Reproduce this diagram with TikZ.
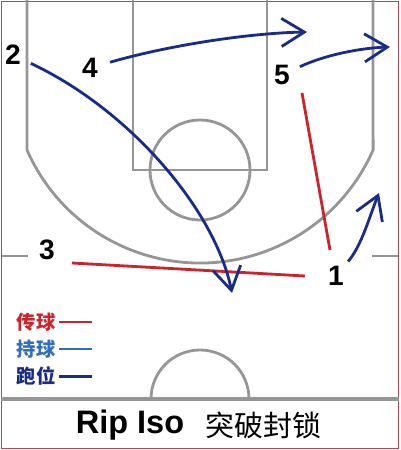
\documentclass[tikz,border=0pt]{standalone}
\usepackage{fontspec}
\setmainfont{Liberation Sans}
\newfontfamily\cjk{Noto Sans CJK SC}
\usepackage{tikz}
\usetikzlibrary{arrows.meta,positioning,calc}
\definecolor{courtgray}{RGB}{150,150,150}
\definecolor{passred}{RGB}{205,35,45}
\definecolor{dribbleblue}{RGB}{50,110,190}
\definecolor{runblue}{RGB}{25,45,135}
\definecolor{framered}{RGB}{175,70,80}

\begin{document}
\begin{tikzpicture}[x=0.02cm, y=0.02cm]
    \tikzstyle{court}=[courtgray, line width=1.6pt]
    \tikzstyle{player}=[font=\fontsize{16}{16}\selectfont\bfseries, inner sep=1pt]
    \tikzstyle{run}=[runblue, line width=1.6pt, -{Straight Barb[length=13pt, width=16pt, line width=1.6pt]}]
    \tikzstyle{pass}=[passred, line width=1.6pt]
    \tikzstyle{legendtext}=[font=\cjk\bfseries\fontsize{11}{11}\selectfont, inner sep=1pt]
    \useasboundingbox (0,0) rectangle (400,450);
    \draw[framered, line width=0.8pt] (1.5,1.5) rectangle (398.5,448.5);
    % court lines
    \draw[court] (27,450) -- (27,300) arc[start angle=203.7, end angle=336.3, radius=189] -- (373,450);
    \draw[court] (133,450) -- (133,280) -- (267,280) -- (267,450);
    \draw[court] (200,280) circle[radius=50];
    \draw[court, line width=2pt] (1.5,51) -- (398.5,51);
    \draw[court] (151,51) arc[start angle=180, end angle=0, radius=49];
    \draw[court] (2,194) -- (28,194);
    \draw[court] (372,194) -- (398,194);
    % players
    \node[player] (p2) at (13,395) {2};
    \node[player] (p4) at (90,382) {4};
    \node[player] (p5) at (282,375) {5};
    \node[player] (p3) at (47,200) {3};
    \node[player] (p1) at (336,174) {1};
    \coordinate (cut2) at (232,157);
    \coordinate (cut4) at (307,418);
    \coordinate (cut5) at (390,403);
    \coordinate (drive1) at (379,257);
    % passes
    \draw[pass] ([shift={(-6,26)}]p1.center) -- ([shift={(20,-18)}]p5.center);
    \draw[pass] ([shift={(-31,0)}]p1.center) -- ([shift={(25,-13)}]p3.center);
    % runs
    \draw[run, shorten <=5pt] (p2) .. controls (130,340) and (215,240) .. (cut2);
    \draw[run, shorten <=6pt] (p4) .. controls (170,405) and (250,417) .. (cut4);
    \draw[run, shorten <=5pt] (p5) .. controls (325,395) and (360,402) .. (cut5);
    \draw[run, shorten <=2pt] (p1) .. controls (362,205) and (370,235) .. (drive1);
    % legend
    \node[legendtext, passred] (lpass) at (36,128) {传球};
    \node[legendtext, dribbleblue, below=2.5pt of lpass] (ldribble) {持球};
    \node[legendtext, runblue, below=2.5pt of ldribble] (lrun) {跑位};
    \draw[passred, line width=1.6pt] ([xshift=1pt]lpass.east) -- +(33,0);
    \draw[dribbleblue, line width=1.6pt] ([xshift=1pt]ldribble.east) -- +(33,0);
    \draw[runblue, line width=1.6pt] ([xshift=1pt]lrun.east) -- +(33,0);
    % title
    \node[font=\fontsize{18.5}{19}\selectfont\bfseries, inner sep=0pt] (title) at (130,25) {Rip Iso};
    \node[font=\cjk\fontsize{16.5}{17}\selectfont, inner sep=0pt, right=12pt of title] (titlecn) {突破封锁};
\end{tikzpicture}
\end{document}
